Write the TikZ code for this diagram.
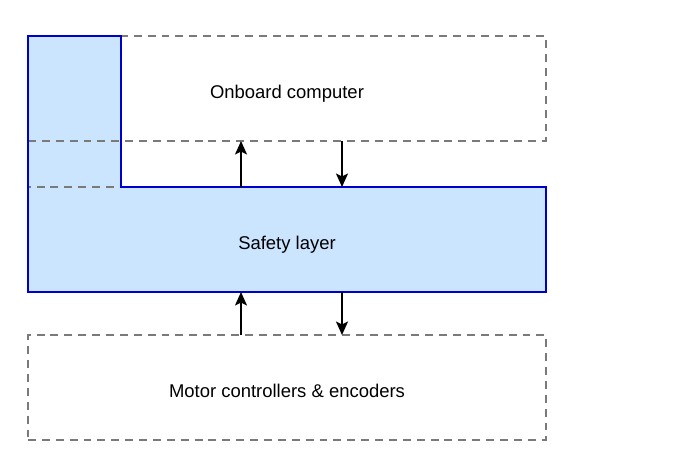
\documentclass[tikz,border=0pt]{standalone}
\usepackage{fontspec}
\setmainfont{Liberation Sans}
\definecolor{safeblue}{RGB}{0, 0, 204}
\definecolor{safefill}{RGB}{204, 229, 255}
\definecolor{boxgray}{RGB}{122, 122, 122}
\usetikzlibrary{arrows.meta, positioning, backgrounds}
\tikzset{
	layer/.style={rectangle, draw=boxgray, line width=1pt, dash pattern=on 4.5pt off 3.4pt, minimum width=10.36cm, minimum height=2.1cm, inner sep=0pt, outer sep=0pt, text height=11pt, text depth=0pt, font=\fontsize{10.5}{12}\selectfont},
	safeborder/.style={draw=safeblue, line width=1.1pt},
	arrow/.style={-{Stealth[length=2.7mm, width=2.4mm, inset=0.6mm]}, line width=1pt, draw=black},
}

\begin{document}
\begin{tikzpicture}
		\useasboundingbox (0,0) rectangle (13.66,-9.12);
		\node[layer] (obc) at (5.74,-1.77) {Onboard computer};
		\node[layer, below=0.92cm of obc] (safe) {Safety layer};
		\node[layer, below=0.86cm of safe] (motor) {Motor controllers \& encoders};
		\coordinate (bar) at (2.42,-0.72);
		\coordinate (upx) at (4.82,0);
		\coordinate (dnx) at (6.84,0);
		\begin{scope}[on background layer]
			\fill[safefill] (obc.north west) -- (bar) -- (bar |- safe.north) -- (safe.north east) -- (safe.south east) -- (safe.south west) -- cycle;
		\end{scope}
		\draw[safeborder] (obc.north west) -- (bar) -- (bar |- safe.north) -- (safe.north east) -- (safe.south east) -- (safe.south west) -- cycle;
		\draw[arrow] (upx |- safe.north) -- (upx |- obc.south);
		\draw[arrow] (dnx |- obc.south) -- (dnx |- safe.north);
		\draw[arrow] (upx |- motor.north) -- (upx |- safe.south);
		\draw[arrow] (dnx |- safe.south) -- (dnx |- motor.north);
	\end{tikzpicture}
\end{document}
